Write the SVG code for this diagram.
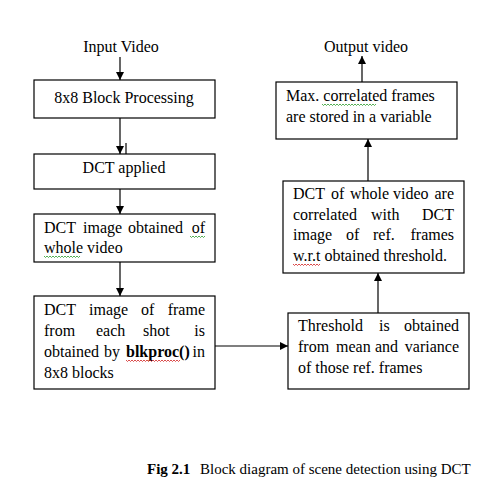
<svg xmlns="http://www.w3.org/2000/svg" width="490" height="487" viewBox="0 0 490 487">
<style>
.box{fill:#fff;stroke:#000;stroke-width:1.2}
.c{stroke:#000;stroke-width:1.2;fill:none}
.wg{stroke:#2a9a2a;stroke-width:0.8;fill:none}
.wr{stroke:#d02020;stroke-width:0.8;fill:none}
</style>
<defs>
<marker id="ah" markerWidth="8" markerHeight="8" refX="8" refY="4" orient="auto" markerUnits="userSpaceOnUse">
<path d="M0,0 L8,4 L0,8 Z" fill="#000"/>
</marker>
</defs>
<rect width="490" height="487" fill="#fff"/>
<g id="connectors">
<line class="c" x1="120" y1="57" x2="120" y2="80" marker-end="url(#ah)"/>
<line class="c" x1="120" y1="118" x2="120" y2="154" marker-end="url(#ah)"/>
<line class="c" x1="126" y1="143" x2="126" y2="159"/>
<line class="c" x1="120" y1="189" x2="120" y2="214" marker-end="url(#ah)"/>
<line class="c" x1="120" y1="262" x2="120" y2="296" marker-end="url(#ah)"/>
<line class="c" x1="215" y1="346" x2="288" y2="346" marker-end="url(#ah)"/>
<line class="c" x1="378" y1="313" x2="378" y2="273" marker-end="url(#ah)"/>
<line class="c" x1="368" y1="181" x2="368" y2="139" marker-end="url(#ah)"/>
<line class="c" x1="362" y1="82" x2="362" y2="56" marker-end="url(#ah)"/>
</g>
<g font-family="Liberation Serif, Times New Roman, DejaVu Serif, serif" font-size="16" fill="#000">
<g id="input"><text x="121" y="52" text-anchor="middle">Input Video</text></g>
<g id="output"><text x="366" y="52" text-anchor="middle">Output video</text></g>
<g id="n1">
<rect class="box" x="34" y="80" width="181" height="38"/>
<text x="124" y="103" text-anchor="middle">8x8 Block Processing</text>
</g>
<g id="n2">
<rect class="box" x="34" y="154" width="181" height="35"/>
<text x="124" y="173" text-anchor="middle">DCT applied</text>
</g>
<g id="n3">
<rect class="box" x="34" y="214" width="181" height="48"/>
<text y="233"><tspan x="44">DCT</tspan><tspan x="83">image</tspan><tspan x="128">obtained</tspan></text>
<text x="205" y="233" text-anchor="end">of</text>
<text x="44" y="253">whole video</text>
<path class="wg" d="M190,236 l1.5,1.5 l1.5,-1.5 l1.5,1.5 l1.5,-1.5 l1.5,1.5 l1.5,-1.5 l1.5,1.5 l1.5,-1.5 l1.5,1.5 l1.5,-1.5"/>
<path class="wg" d="M44,256 l1.5,1.5 l1.5,-1.5 l1.5,1.5 l1.5,-1.5 l1.5,1.5 l1.5,-1.5 l1.5,1.5 l1.5,-1.5 l1.5,1.5 l1.5,-1.5 l1.5,1.5 l1.5,-1.5 l1.5,1.5 l1.5,-1.5 l1.5,1.5 l1.5,-1.5 l1.5,1.5 l1.5,-1.5 l1.5,1.5 l1.5,-1.5 l1.5,1.5 l1.5,-1.5 l1.5,1.5 l1.5,-1.5"/>
</g>
<g id="n4">
<rect class="box" x="34" y="296" width="181" height="93"/>
<text y="315"><tspan x="44">DCT</tspan><tspan x="89">image</tspan><tspan x="141">of</tspan></text>
<text x="205" y="315" text-anchor="end">frame</text>
<text y="336"><tspan x="44">from</tspan><tspan x="96">each</tspan><tspan x="143">shot</tspan></text>
<text x="205" y="336" text-anchor="end">is</text>
<text y="357"><tspan x="44">obtained</tspan><tspan x="104">by</tspan><tspan x="126" font-weight="bold">blkproc()</tspan></text>
<text x="205" y="357" text-anchor="end">in</text>
<text x="44" y="378">8x8 blocks</text>
<path class="wr" d="M126,360 l1.5,1.5 l1.5,-1.5 l1.5,1.5 l1.5,-1.5 l1.5,1.5 l1.5,-1.5 l1.5,1.5 l1.5,-1.5 l1.5,1.5 l1.5,-1.5 l1.5,1.5 l1.5,-1.5 l1.5,1.5 l1.5,-1.5 l1.5,1.5 l1.5,-1.5 l1.5,1.5 l1.5,-1.5 l1.5,1.5 l1.5,-1.5 l1.5,1.5 l1.5,-1.5 l1.5,1.5 l1.5,-1.5 l1.5,1.5 l1.5,-1.5 l1.5,1.5 l1.5,-1.5 l1.5,1.5 l1.5,-1.5 l1.5,1.5 l1.5,-1.5 l1.5,1.5 l1.5,-1.5 l1.5,1.5 l1.5,-1.5"/>
</g>
<g id="n5">
<rect class="box" x="288" y="313" width="181" height="76"/>
<text y="331"><tspan x="298">Threshold</tspan><tspan x="379">is</tspan></text>
<text x="459" y="331" text-anchor="end">obtained</text>
<text y="352"><tspan x="298">from</tspan><tspan x="336">mean</tspan><tspan x="375">and</tspan></text>
<text x="459" y="352" text-anchor="end">variance</text>
<text x="298" y="373">of those ref. frames</text>
</g>
<g id="n6">
<rect class="box" x="283" y="181" width="181" height="92"/>
<text y="199"><tspan x="293">DCT</tspan><tspan x="331">of</tspan><tspan x="350">whole</tspan><tspan x="393">video</tspan></text>
<text x="454" y="199" text-anchor="end">are</text>
<text y="220"><tspan x="293">correlated</tspan><tspan x="371">with</tspan></text>
<text x="454" y="220" text-anchor="end">DCT</text>
<text y="240"><tspan x="293">image</tspan><tspan x="346">of</tspan><tspan x="373">ref.</tspan></text>
<text x="454" y="240" text-anchor="end">frames</text>
<text x="293" y="261">w.r.t obtained threshold.</text>
<path class="wr" d="M293,264 l1.5,1.5 l1.5,-1.5 l1.5,1.5 l1.5,-1.5 l1.5,1.5 l1.5,-1.5 l1.5,1.5 l1.5,-1.5 l1.5,1.5 l1.5,-1.5 l1.5,1.5 l1.5,-1.5 l1.5,1.5 l1.5,-1.5 l1.5,1.5 l1.5,-1.5 l1.5,1.5 l1.5,-1.5"/>
</g>
<g id="n7">
<rect class="box" x="276" y="82" width="181" height="57"/>
<text x="286" y="101">Max. correlated frames</text>
<text x="286" y="122">are stored in a variable</text>
<path class="wg" d="M322,104 l1.5,1.5 l1.5,-1.5 l1.5,1.5 l1.5,-1.5 l1.5,1.5 l1.5,-1.5 l1.5,1.5 l1.5,-1.5 l1.5,1.5 l1.5,-1.5 l1.5,1.5 l1.5,-1.5 l1.5,1.5 l1.5,-1.5 l1.5,1.5 l1.5,-1.5 l1.5,1.5 l1.5,-1.5 l1.5,1.5 l1.5,-1.5 l1.5,1.5 l1.5,-1.5 l1.5,1.5 l1.5,-1.5 l1.5,1.5 l1.5,-1.5 l1.5,1.5 l1.5,-1.5 l1.5,1.5 l1.5,-1.5 l1.5,1.5 l1.5,-1.5 l1.5,1.5 l1.5,-1.5 l1.5,1.5 l1.5,-1.5"/>
</g>
<g id="caption" font-size="15">
<text x="147" y="474"><tspan font-weight="bold">Fig 2.1</tspan><tspan x="200">Block diagram of scene detection using DCT</tspan></text>
</g>
</g>
</svg>
